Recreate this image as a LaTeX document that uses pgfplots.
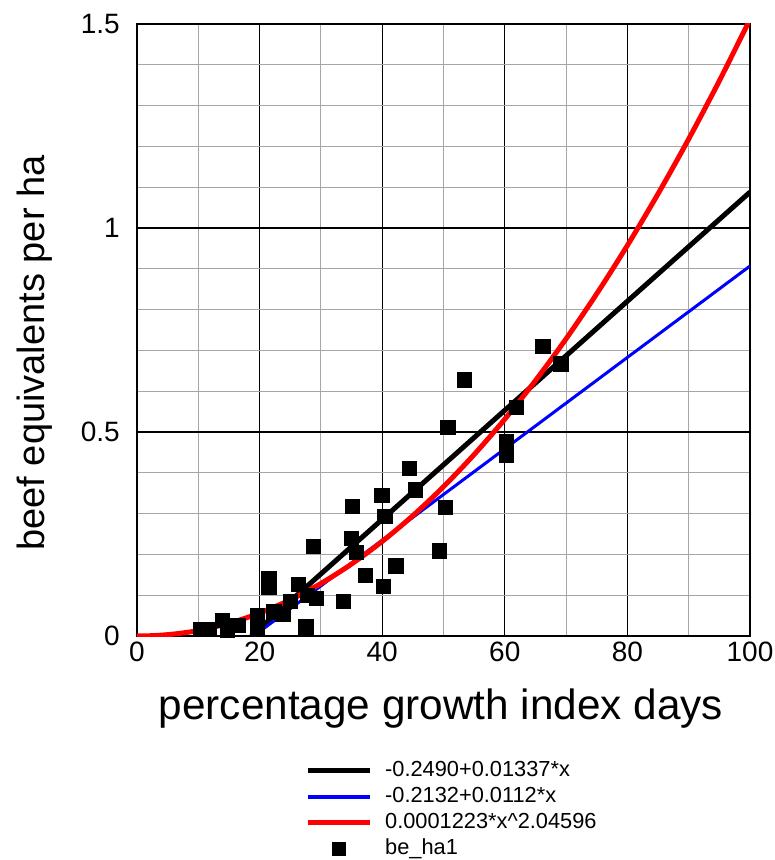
\documentclass[border=0pt]{standalone}
\usepackage{fontspec}
\setmainfont{Liberation Sans}
\usepackage{pgfplots}
\pgfplotsset{compat=1.18}
\pgfplotsset{
  lineleg/.style={legend image code/.code={\draw[##1, line width=#1] (0pt,0pt) -- (62pt,0pt);}},
  markleg/.style={legend image code/.code={\draw[##1, mark size=6.5pt] plot coordinates {(31pt,0pt)};}},
}
\begin{document}
\begin{tikzpicture}
\begin{axis}[
  scale only axis, width=613pt, height=612pt,
  xmin=0, xmax=100, ymin=0, ymax=1.5,
  xtick={0,20,40,60,80,100}, ytick={0,0.5,1,1.5},
  minor xtick={10,30,50,70,90},
  minor ytick={0.1,0.2,0.3,0.4,0.6,0.7,0.8,0.9,1.1,1.2,1.3,1.4},
  grid=both,
  major grid style={black, line width=1.1pt},
  minor grid style={black!35, line width=1pt},
  major tick length=0pt, minor tick length=0pt,
  axis line style={black, line width=1.2pt},
  /pgf/number format/assume math mode=true,
  tick label style={font=\fontsize{28}{28}\selectfont, inner sep=0pt},
  xticklabel style={anchor=north, yshift=-6pt},
  yticklabel style={anchor=east, xshift=-17pt},
  xlabel={percentage growth index days},
  ylabel={beef equivalents per ha},
  xlabel style={font=\fontsize{42.3}{42.3}\selectfont, at={(axis description cs:0.496,-0.137)}, anchor=base},
  ylabel style={font=\fontsize{38}{38}\selectfont, at={(axis description cs:-0.1501,0.4625)}, anchor=base},
  legend style={at={(axis description cs:0.274,-0.199)}, anchor=north west, draw=none, fill=none,
    inner sep=0pt, font=\fontsize{21.8}{21.8}\selectfont, row sep=0pt,
    nodes={inner sep=3pt, text height=16pt, text depth=4pt},
    /tikz/every odd column/.append style={column sep=10pt}},
  legend cell align=left,
]
\coordinate (O) at (rel axis cs:0,0);
\addplot[black, line width=5pt, lineleg=5pt]
  coordinates {(18.62,0) (100,1.088)};
\addlegendentry{-0.2490+0.01337*x}
\addplot[blue, line width=3pt, lineleg=3.2pt]
  coordinates {(19.04,0) (100,0.9068)};
\addlegendentry{-0.2132+0.0112*x}
\addplot[red, line width=5pt, smooth, lineleg=5pt]
  coordinates {(0,0) (2.5,0.0008) (5,0.00329) (7.5,0.0075) (10,0.01360) (15,0.03117) (20,0.05614) (25,0.08863) (30,0.12870)
  (35,0.17641) (40,0.23183) (45,0.29501) (50,0.36597) (55,0.44477) (60,0.53144)
  (65,0.62599) (70,0.72849) (75,0.83893) (80,0.95735) (85,1.08378) (90,1.21823)
  (95,1.36071) (100,1.5115)};
\addlegendentry{0.0001223*x\textasciicircum 2.04596}
\addplot[only marks, mark=square*, mark size=7.2pt, black, markleg]
  coordinates {
  (10.3,0.016) (11.7,0.016) (13.9,0.038) (14.7,0.015) (16.4,0.027)
  (19.6,0.051) (19.6,0.019) (21.5,0.14) (21.5,0.12) (22.3,0.06)
  (23.8,0.054) (25.0,0.086) (26.3,0.127) (27.5,0.023) (27.8,0.10)
  (29.2,0.092) (28.7,0.22) (33.6,0.086) (35.1,0.318) (34.9,0.239)
  (35.8,0.206) (37.2,0.149) (39.9,0.345) (40.4,0.294) (40.2,0.122)
  (42.2,0.172) (44.4,0.412) (45.4,0.359) (49.3,0.209) (50.3,0.316)
  (50.7,0.512) (53.4,0.628) (60.2,0.476) (60.2,0.443) (61.9,0.561)
  (66.2,0.710) (69.1,0.667)};
\addlegendentry{be\_ha1}
\end{axis}
\pgfresetboundingbox
\path[use as bounding box] ([shift={(-137pt,-224pt)}]O) rectangle ([shift={(638pt,636pt)}]O);
\end{tikzpicture}
\end{document}
